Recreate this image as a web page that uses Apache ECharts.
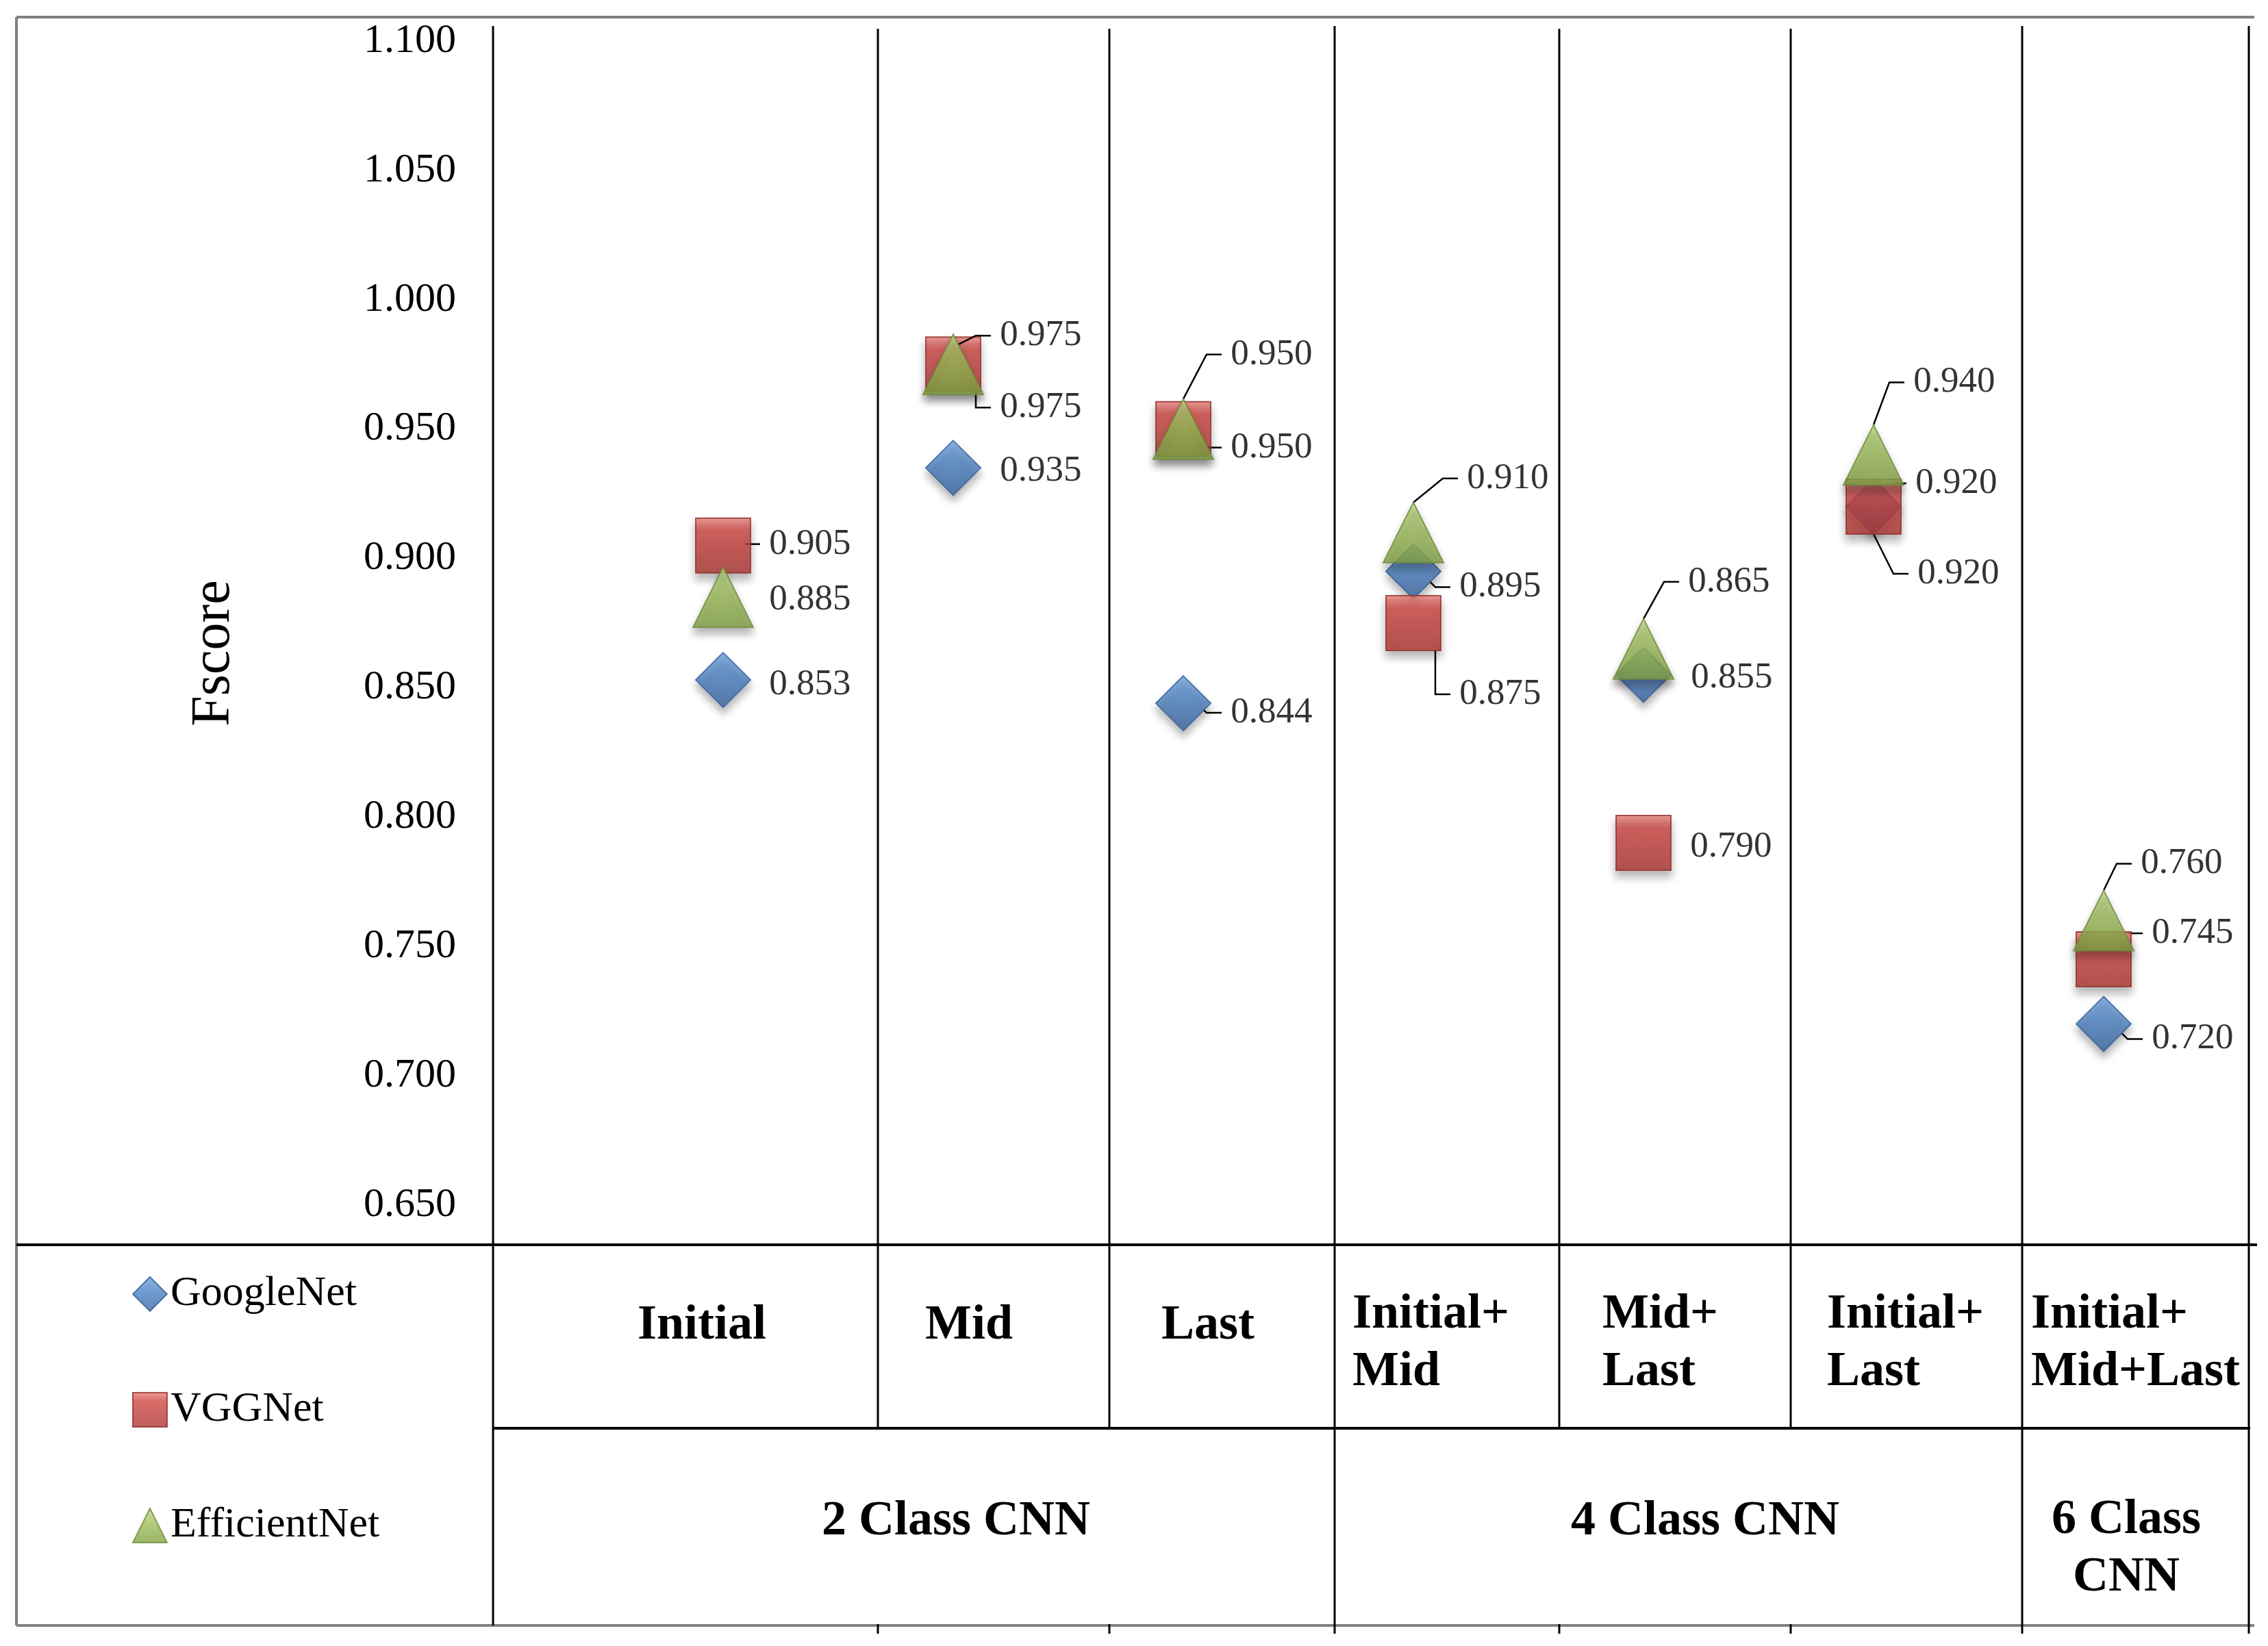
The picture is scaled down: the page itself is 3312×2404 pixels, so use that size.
<!DOCTYPE html>
<html>
<head>
<meta charset="utf-8">
<script src="https://cdn.jsdelivr.net/npm/echarts@6/dist/echarts.min.js"></script>
<style>
html,body{margin:0;padding:0;background:#fff;}
#chart{width:3312px;height:2404px;}
</style>
</head>
<body>
<div id="chart"></div>
<script>
// ---------- data ----------
const categories = ['Initial', 'Mid', 'Last', 'Initial+Mid', 'Mid+Last', 'Initial+Last', 'Initial+Mid+Last'];
const categoryLabels = ['Initial', 'Mid', 'Last', 'Initial+\nMid', 'Mid+\nLast', 'Initial+\nLast', 'Initial+\nMid+Last'];
const groupLabels = ['2 Class CNN', '4 Class CNN', '6 Class\nCNN'];
const seriesNames = ['GoogleNet', 'VGGNet', 'EfficientNet'];
const googleNet = [0.853, 0.935, 0.844, 0.895, 0.855, 0.920, 0.720];
const vggNet = [0.905, 0.975, 0.950, 0.875, 0.790, 0.920, 0.745];
const efficientNet = [0.885, 0.975, 0.950, 0.910, 0.865, 0.940, 0.760];
const yMin = 0.65, yMax = 1.10, yStep = 0.05;
const yAxisTitle = 'Fscore';

// ---------- layout (label placement, table geometry) ----------
const labelOffsets = [
  [[67, 7], [68, 5], [69, 14], [67, 23], [69, 5], [64, 98], [70, 22]],
  [[67, -2], [68, 63], [69, 27], [67, 104], [68, 6], [61, -34], [70, -38]],
  [[67, 4], [68, -42], [69, -109], [78, -79], [65, -98], [58, -106], [54, -83]]
];
const leaderShown = [
  [false, false, true, true, false, true, true],
  [true, true, true, true, false, true, true],
  [false, true, true, true, true, true, true]
];
const LABEL_PAD = 13; // width of the leading space that keeps the leader off the digits

const serif = '"Liberation Serif", "Times New Roman", serif';

const grad = (stops) => ({type: 'linear', x: 0, y: 0, x2: 0, y2: 1, colorStops: stops.map((c) => ({offset: c[0], color: c[1]}))});
const styles = [
  {symbol: 'diamond', size: 80, color: grad([[0, '#6FA2E0'], [0.45, '#4D82C3'], [1, '#3A66A1']]), border: '#34609A'},
  {symbol: 'rect', size: 80, color: grad([[0, '#EC837D'], [0.25, '#D04743'], [1, '#AE3733']]), border: '#912E2B'},
  {symbol: 'triangle', size: 88, color: grad([[0, '#B9D682'], [0.5, '#9BBB57'], [1, '#82A244']]), border: '#6E8B38'}
];
const allData = [googleNet, vggNet, efficientNet];

const series = allData.map((arr, si) => ({
  name: seriesNames[si],
  type: 'scatter',
  symbol: styles[si].symbol,
  symbolSize: styles[si].size,
  itemStyle: {
    color: styles[si].color,
    borderColor: styles[si].border,
    borderWidth: 2,
    shadowBlur: 12,
    shadowOffsetY: 9,
    shadowColor: 'rgba(0,0,0,0.35)'
  },
  data: arr.map((v, i) => ({
    value: v,
    labelLine: {show: leaderShown[si][i]}
  })),
  label: {
    show: true,
    position: 'right',
    formatter: (p) => '\u00a0' + p.value.toFixed(3),
    fontFamily: serif,
    fontSize: 53,
    color: '#000'
  },
  labelLine: {
    show: true,
    length2: 22,
    lineStyle: {color: '#000', width: 2.5}
  },
  labelLayout: function (p) {
    const off = labelOffsets[p.seriesIndex][p.dataIndex];
    return {
      x: p.rect.x + p.rect.width / 2 + off[0] - LABEL_PAD,
      y: p.rect.y + p.rect.height / 2 + off[1],
      align: 'left',
      verticalAlign: 'middle'
    };
  },
  emphasis: {disabled: true},
  z: 3 + si
}));

// ---------- table / frame graphics ----------
const G = [];
const line = (x1, y1, x2, y2, w, c) => G.push({type: 'line', silent: true, z: 1, shape: {x1, y1, x2, y2}, style: {stroke: c || '#000', lineWidth: w || 3}});
// outer frame (grey)
line(24, 25, 3292, 25, 4, '#808080');
line(24, 25, 24, 2374, 4, '#808080');
line(24, 2374, 3292, 2374, 4, '#808080');
// column borders
const colX = [720, 1282, 1620, 1949, 2277, 2615, 2953, 3284];
const fullCols = [720, 1949, 2953, 3284];
colX.forEach((x) => {
  if (fullCols.indexOf(x) >= 0) line(x, 38, x, x === 720 ? 2374 : 2386, 3);
  else { line(x, 42, x, 2086, 3); line(x, 2372, x, 2386, 3); }
});
// row borders
line(24, 1818, 3296, 1818, 4);
line(720, 2086, 3286, 2086, 4);

const txt = (text, x, y, align, opts) => G.push(Object.assign({
  type: 'text', silent: true, z: 2, x: x, y: y,
  style: {text: text, fill: '#000', font: 'bold 72px ' + serif, align: align, verticalAlign: 'middle', lineHeight: 84}
}, opts || {}));
// first-level category labels
const catPos = [[1025, 1936, 'center'], [1415, 1936, 'center'], [1764, 1936, 'center'],
  [1975, 1962, 'left'], [2340, 1962, 'left'], [2668, 1962, 'left'], [2966, 1962, 'left']];
categoryLabels.forEach((t, i) => txt(t, catPos[i][0], catPos[i][1], catPos[i][2]));
// group labels
const grpPos = [[1396, 2222], [2490, 2222], [3105, 2262]];
groupLabels.forEach((t, i) => txt(t, grpPos[i][0], grpPos[i][1], 'center'));
// y axis title
G.push({type: 'text', silent: true, z: 2, x: 313, y: 954, rotation: Math.PI / 2,
  style: {text: yAxisTitle, fill: '#000', font: '80px ' + serif, align: 'center', verticalAlign: 'middle'}});

const chart = echarts.init(document.getElementById('chart'), null, {renderer: 'canvas'});
chart.setOption({
  animation: false,
  backgroundColor: '#fff',
  grid: {left: 888, right: 72, top: 60, bottom: 644, containLabel: false},
  xAxis: {
    type: 'category',
    data: categories,
    boundaryGap: true,
    axisLine: {show: false},
    axisTick: {show: false},
    axisLabel: {show: false},
    splitLine: {show: false}
  },
  yAxis: {
    type: 'value',
    min: yMin,
    max: yMax,
    interval: yStep,
    axisLine: {show: false},
    axisTick: {show: false},
    splitLine: {show: false},
    axisLabel: {
      margin: 222,
      formatter: (v) => v.toFixed(3),
      fontFamily: serif,
      fontSize: 60,
      color: '#000'
    }
  },
  legend: {
    orient: 'vertical',
    left: 188,
    top: 1854,
    itemWidth: 50,
    itemHeight: 50,
    itemGap: 107,
    data: seriesNames,
    selectedMode: false,
    textStyle: {fontFamily: serif, fontSize: 62, color: '#000', lineHeight: 50, padding: [6, 0, 0, 0]}
  },
  graphic: G,
  series: series
});
</script>
</body>
</html>
